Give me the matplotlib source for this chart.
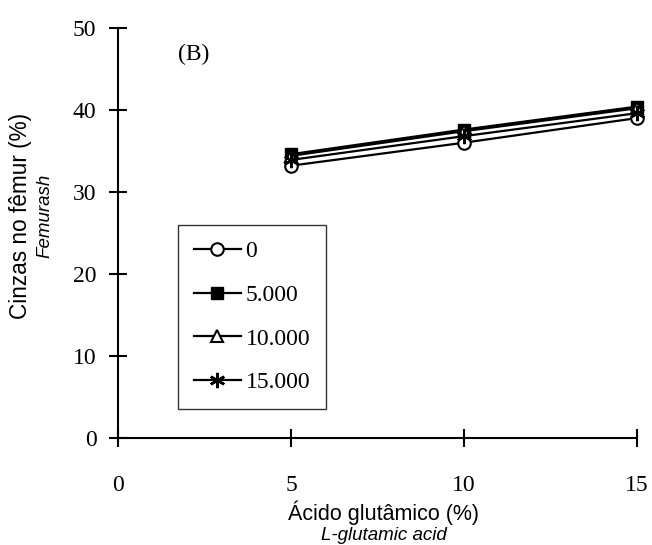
import matplotlib
matplotlib.use("Agg")
import matplotlib.pyplot as plt

x_vals = [5, 10, 15]
series_labels = ["0", "5.000", "10.000", "15.000"]
s0 = [33.2, 36.0, 39.0]
s5000 = [34.6, 37.6, 40.4]
s10000 = [34.4, 37.4, 40.2]
s15000 = [33.9, 36.8, 39.6]
x_ticks = [0, 5, 10, 15]
y_ticks = [0, 10, 20, 30, 40, 50]

serif = "Liberation Serif"
sans = "Liberation Sans"

fig = plt.figure(figsize=(6.52, 5.45), dpi=100)
ax_l, ax_b, ax_w, ax_h = 0.181, 0.196, 0.796, 0.753
ax = fig.add_axes([ax_l, ax_b, ax_w, ax_h])

styles = [
    dict(marker="o", markerfacecolor="white", markeredgecolor="black", markersize=9, markeredgewidth=1.5),
    dict(marker="s", markerfacecolor="black", markeredgecolor="black", markersize=9),
    dict(marker="^", markerfacecolor="white", markeredgecolor="black", markersize=9, markeredgewidth=1.5),
    dict(marker=(6, 2, 0), markerfacecolor="black", markeredgecolor="black", markersize=11, markeredgewidth=1.8),
]
for ys, lab, st in zip([s0, s5000, s10000, s15000], series_labels, styles):
    ax.plot(x_vals, ys, color="black", linewidth=1.6, label=lab, clip_on=False, **st)

ax.set_xlim(0, 15)
ax.set_ylim(0, 50)
ax.set_xticks(x_ticks)
ax.set_yticks(y_ticks)
ax.spines["top"].set_visible(False)
ax.spines["right"].set_visible(False)
ax.spines["left"].set_linewidth(1.5)
ax.spines["bottom"].set_linewidth(1.5)
ax.tick_params(direction="inout", length=13, width=1.5, labelsize=17)
ax.tick_params(axis="y", pad=9)
ax.tick_params(axis="x", pad=20)
for t in ax.get_xticklabels() + ax.get_yticklabels():
    t.set_fontfamily(serif)

ax.text(1.73, 46.8, "(B)", fontsize=17, fontfamily=serif, ha="left", va="center")

leg = ax.legend(loc="upper left", bbox_to_anchor=(0.1156, 0.5195), borderaxespad=0,
                frameon=True, fancybox=False, edgecolor="black",
                prop={"family": serif, "size": 17}, handlelength=2.0,
                labelspacing=0.94, handletextpad=0.2, borderpad=0.66)
leg.get_frame().set_linewidth(1.0)

fig.text(21 / 652, 1 - 216 / 545, "Cinzas no fêmur (%)", rotation=90, fontsize=16.3,
         fontfamily=sans, ha="center", va="center")
fig.text(45 / 652, 1 - 216 / 545, "Femurash", rotation=90, fontsize=13.5, style="italic",
         fontfamily=sans, ha="center", va="center")
fig.text(384 / 652, 1 - 513 / 545, "Ácido glutâmico (%)", fontsize=15.5, fontfamily=sans,
         ha="center", va="center")
fig.text(384 / 652, 1 - 536 / 545, "L-glutamic acid", fontsize=13.5, style="italic",
         fontfamily=sans, ha="center", va="center")

fig.savefig("out.png", dpi=100)
